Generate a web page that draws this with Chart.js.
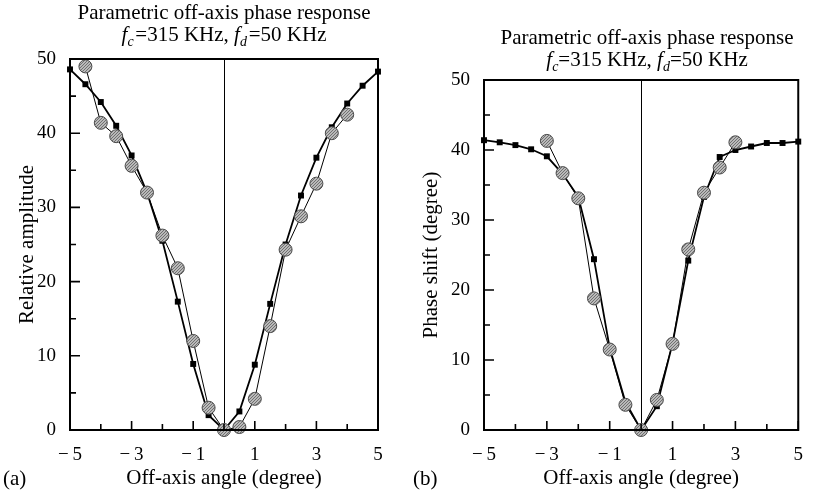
<!DOCTYPE html>
<html lang="en">
  <head>
    <meta charset="UTF-8" />
    <title>Parametric off-axis phase response</title>
    <script src="https://cdn.jsdelivr.net/npm/chart.js"></script>
    <style>
      body { margin: 0; background: #fff; font-family: "Liberation Serif", "Times New Roman", serif; }
      #wrap { position: relative; width: 817px; height: 498px; overflow: hidden; }
      canvas { position: absolute; top: 0; }
      #chartA { left: 0; }
      #chartB { left: 410px; }
      .ttl { position: absolute; width: 360px; text-align: center; font-size: 21px; line-height: 22px; color: #000; }
      .ttl sub { font-size: 14px; line-height: 0; }
      .tag { position: absolute; font-size: 21px; line-height: 24px; color: #000; }
    </style>
  </head>
  <body>
    <div id="wrap">
      <canvas id="chartA" width="400" height="498"></canvas>
      <canvas id="chartB" width="407" height="498"></canvas>
      <div class="ttl" style="left:44px; top:1px">Parametric off-axis phase response<br /><i>f</i><sub><i>c</i></sub>&#8202;=315 KHz, <i>f</i><sub><i>d</i></sub>&#8202;=50 KHz</div>
      <div class="ttl" style="left:467px; top:26px">Parametric off-axis phase response<br /><i>f</i><sub><i>c</i></sub>=315 KHz, <i>f</i><sub><i>d</i></sub>=50 KHz</div>
      <div class="tag" style="left:3px; top:466px">(a)</div>
      <div class="tag" style="left:413px; top:466px">(b)</div>
    </div>

    <script>
      // off-axis angles (degree) for the dense sweep, black squares
      const sweepAngles = [-5, -4.5, -4, -3.5, -3, -2.5, -2, -1.5, -1, -0.5, 0, 0.5, 1, 1.5, 2, 2.5, 3, 3.5, 4, 4.5, 5];
      // (a) relative amplitude
      const ampSquares = [48.6, 46.6, 44.2, 41.0, 37.0, 32.0, 25.5, 17.3, 8.9, 2.0, 0, 2.5, 8.8, 17.0, 25.0, 31.6, 36.7, 40.8, 44.0, 46.4, 48.3];
      const ampCircleAngles = [-4.5, -4, -3.5, -3, -2.5, -2, -1.5, -1, -0.5, 0, 0.5, 1, 1.5, 2, 2.5, 3, 3.5, 4];
      const ampCircles = [49.0, 41.4, 39.6, 35.6, 32.0, 26.2, 21.8, 12.0, 3.0, 0, 0.4, 4.2, 14.0, 24.3, 28.8, 33.2, 40.0, 42.5];
      // (b) phase shift
      const phaseSquares = [41.4, 41.1, 40.7, 40.1, 39.1, 36.6, 33.3, 24.4, 11.7, 4.0, 0, 3.4, 12.4, 24.2, 33.3, 39.0, 40.0, 40.5, 41.0, 41.0, 41.2];
      const phaseCircleAngles = [-3, -2.5, -2, -1.5, -1, -0.5, 0, 0.5, 1, 1.5, 2, 2.5, 3];
      const phaseCircles = [41.3, 36.7, 33.1, 18.8, 11.5, 3.6, 0, 4.3, 12.3, 25.8, 33.9, 37.5, 41.1];

      // labelled ticks
      const xLabelTicks = [-5, -3, -1, 1, 3, 5];
      const yLabelTicks = [0, 10, 20, 30, 40, 50];

      const serif = "'Liberation Serif', 'Times New Roman', serif";
      Chart.defaults.font.family = serif;
      Chart.defaults.color = "#000";

      // speckled grey fill for the round markers
      function dotPattern() {
        const c = document.createElement("canvas");
        c.width = 3;
        c.height = 3;
        const g = c.getContext("2d");
        g.fillStyle = "#b9b9b9";
        g.fillRect(0, 0, 3, 3);
        g.fillStyle = "#707070";
        g.fillRect(0, 0, 1, 1);
        g.fillRect(2, 1, 1, 1);
        g.fillRect(1, 2, 1, 1);
        return g.createPattern(c, "repeat");
      }
      const speckle = dotPattern();

      function pairs(xs, ys) {
        return xs.map((x, i) => ({ x: x, y: ys[i] }));
      }

      // box, inward tick marks and the centre line at 0 degree
      const frame = {
        id: "frame",
        beforeDatasetsDraw(chart) {
          const { ctx, chartArea: a, scales } = chart;
          const x0 = Math.round(scales.x.getPixelForValue(0)) + 0.5;
          ctx.save();
          ctx.strokeStyle = "#000";
          ctx.lineWidth = 1;
          ctx.beginPath();
          ctx.moveTo(x0, a.top);
          ctx.lineTo(x0, a.bottom);
          ctx.stroke();
          ctx.restore();
        },
        afterDraw(chart) {
          const { ctx, chartArea: a, scales } = chart;
          ctx.save();
          ctx.strokeStyle = "#000";
          ctx.lineWidth = 2;
          ctx.strokeRect(a.left, a.top, a.right - a.left, a.bottom - a.top);
          ctx.lineWidth = 1.6;
          ctx.beginPath();
          scales.x.ticks.forEach((t) => {
            const px = scales.x.getPixelForValue(t.value);
            const len = xLabelTicks.includes(t.value) ? 9 : 6;
            ctx.moveTo(px, a.bottom);
            ctx.lineTo(px, a.bottom - len);
          });
          scales.y.ticks.forEach((t) => {
            const py = scales.y.getPixelForValue(t.value);
            const len = yLabelTicks.includes(t.value) ? 10 : 6;
            ctx.moveTo(a.left, py);
            ctx.lineTo(a.left + len, py);
          });
          ctx.stroke();
          ctx.restore();
        },
      };

      function makePanel(id, opts) {
        return new Chart(document.getElementById(id), {
          type: "line",
          data: {
            datasets: [
              {
                data: pairs(opts.circleX, opts.circleY),
                borderColor: "#000",
                borderWidth: 1,
                pointStyle: "circle",
                pointRadius: 6.5,
                pointBackgroundColor: speckle,
                pointBorderColor: "#4a4a4a",
                pointBorderWidth: 1,
                clip: false,
                order: 0,
              },
              {
                data: pairs(sweepAngles, opts.squareY),
                borderColor: "#000",
                borderWidth: 1.8,
                pointStyle: "rect",
                pointRadius: 4.2,
                pointBackgroundColor: "#000",
                pointBorderColor: "#000",
                pointBorderWidth: 0,
                clip: false,
                order: 1,
              },
            ],
          },
          options: {
            responsive: false,
            animation: false,
            events: [],
            layout: { padding: { top: opts.top, right: opts.right, left: 0, bottom: 0 } },
            plugins: { legend: { display: false }, title: { display: false }, tooltip: { enabled: false } },
            scales: {
              x: {
                type: "linear",
                min: -5,
                max: 5,
                afterFit: (s) => { s.height = 68; },
                grid: { display: false, drawTicks: false },
                border: { display: false },
                ticks: {
                  stepSize: 1,
                  autoSkip: false,
                  maxRotation: 0,
                  padding: 14,
                  font: { size: 19 },
                  callback: (v) => (xLabelTicks.includes(v) ? (v < 0 ? "\u2212\u2009" + Math.abs(v) : String(v)) : ""),
                },
                title: {
                  display: true,
                  text: "Off-axis angle (degree)",
                  font: { size: 21 },
                  padding: { top: 0, bottom: 7 },
                },
              },
              y: {
                min: 0,
                max: 50,
                afterFit: (s) => { s.width = opts.yWidth; },
                grid: { display: false, drawTicks: false },
                border: { display: false },
                ticks: {
                  stepSize: 5,
                  autoSkip: false,
                  padding: 14,
                  font: { size: 19 },
                  callback: (v) => (yLabelTicks.includes(v) ? String(v) : ""),
                },
                title: {
                  display: true,
                  text: opts.yTitle,
                  font: { size: 21 },
                  padding: { top: opts.yTitlePad, bottom: 0 },
                },
              },
            },
          },
          plugins: [frame],
        });
      }

      makePanel("chartA", {
        circleX: ampCircleAngles,
        circleY: ampCircles,
        squareY: ampSquares,
        yTitle: "Relative amplitude",
        top: 59,
        right: 22,
        yWidth: 70,
        yTitlePad: 15,
      });

      makePanel("chartB", {
        circleX: phaseCircleAngles,
        circleY: phaseCircles,
        squareY: phaseSquares,
        yTitle: "Phase shift (degree)",
        top: 80,
        right: 5,
        yWidth: 74,
        yTitlePad: 9,
      });
    </script>
  </body>
</html>
